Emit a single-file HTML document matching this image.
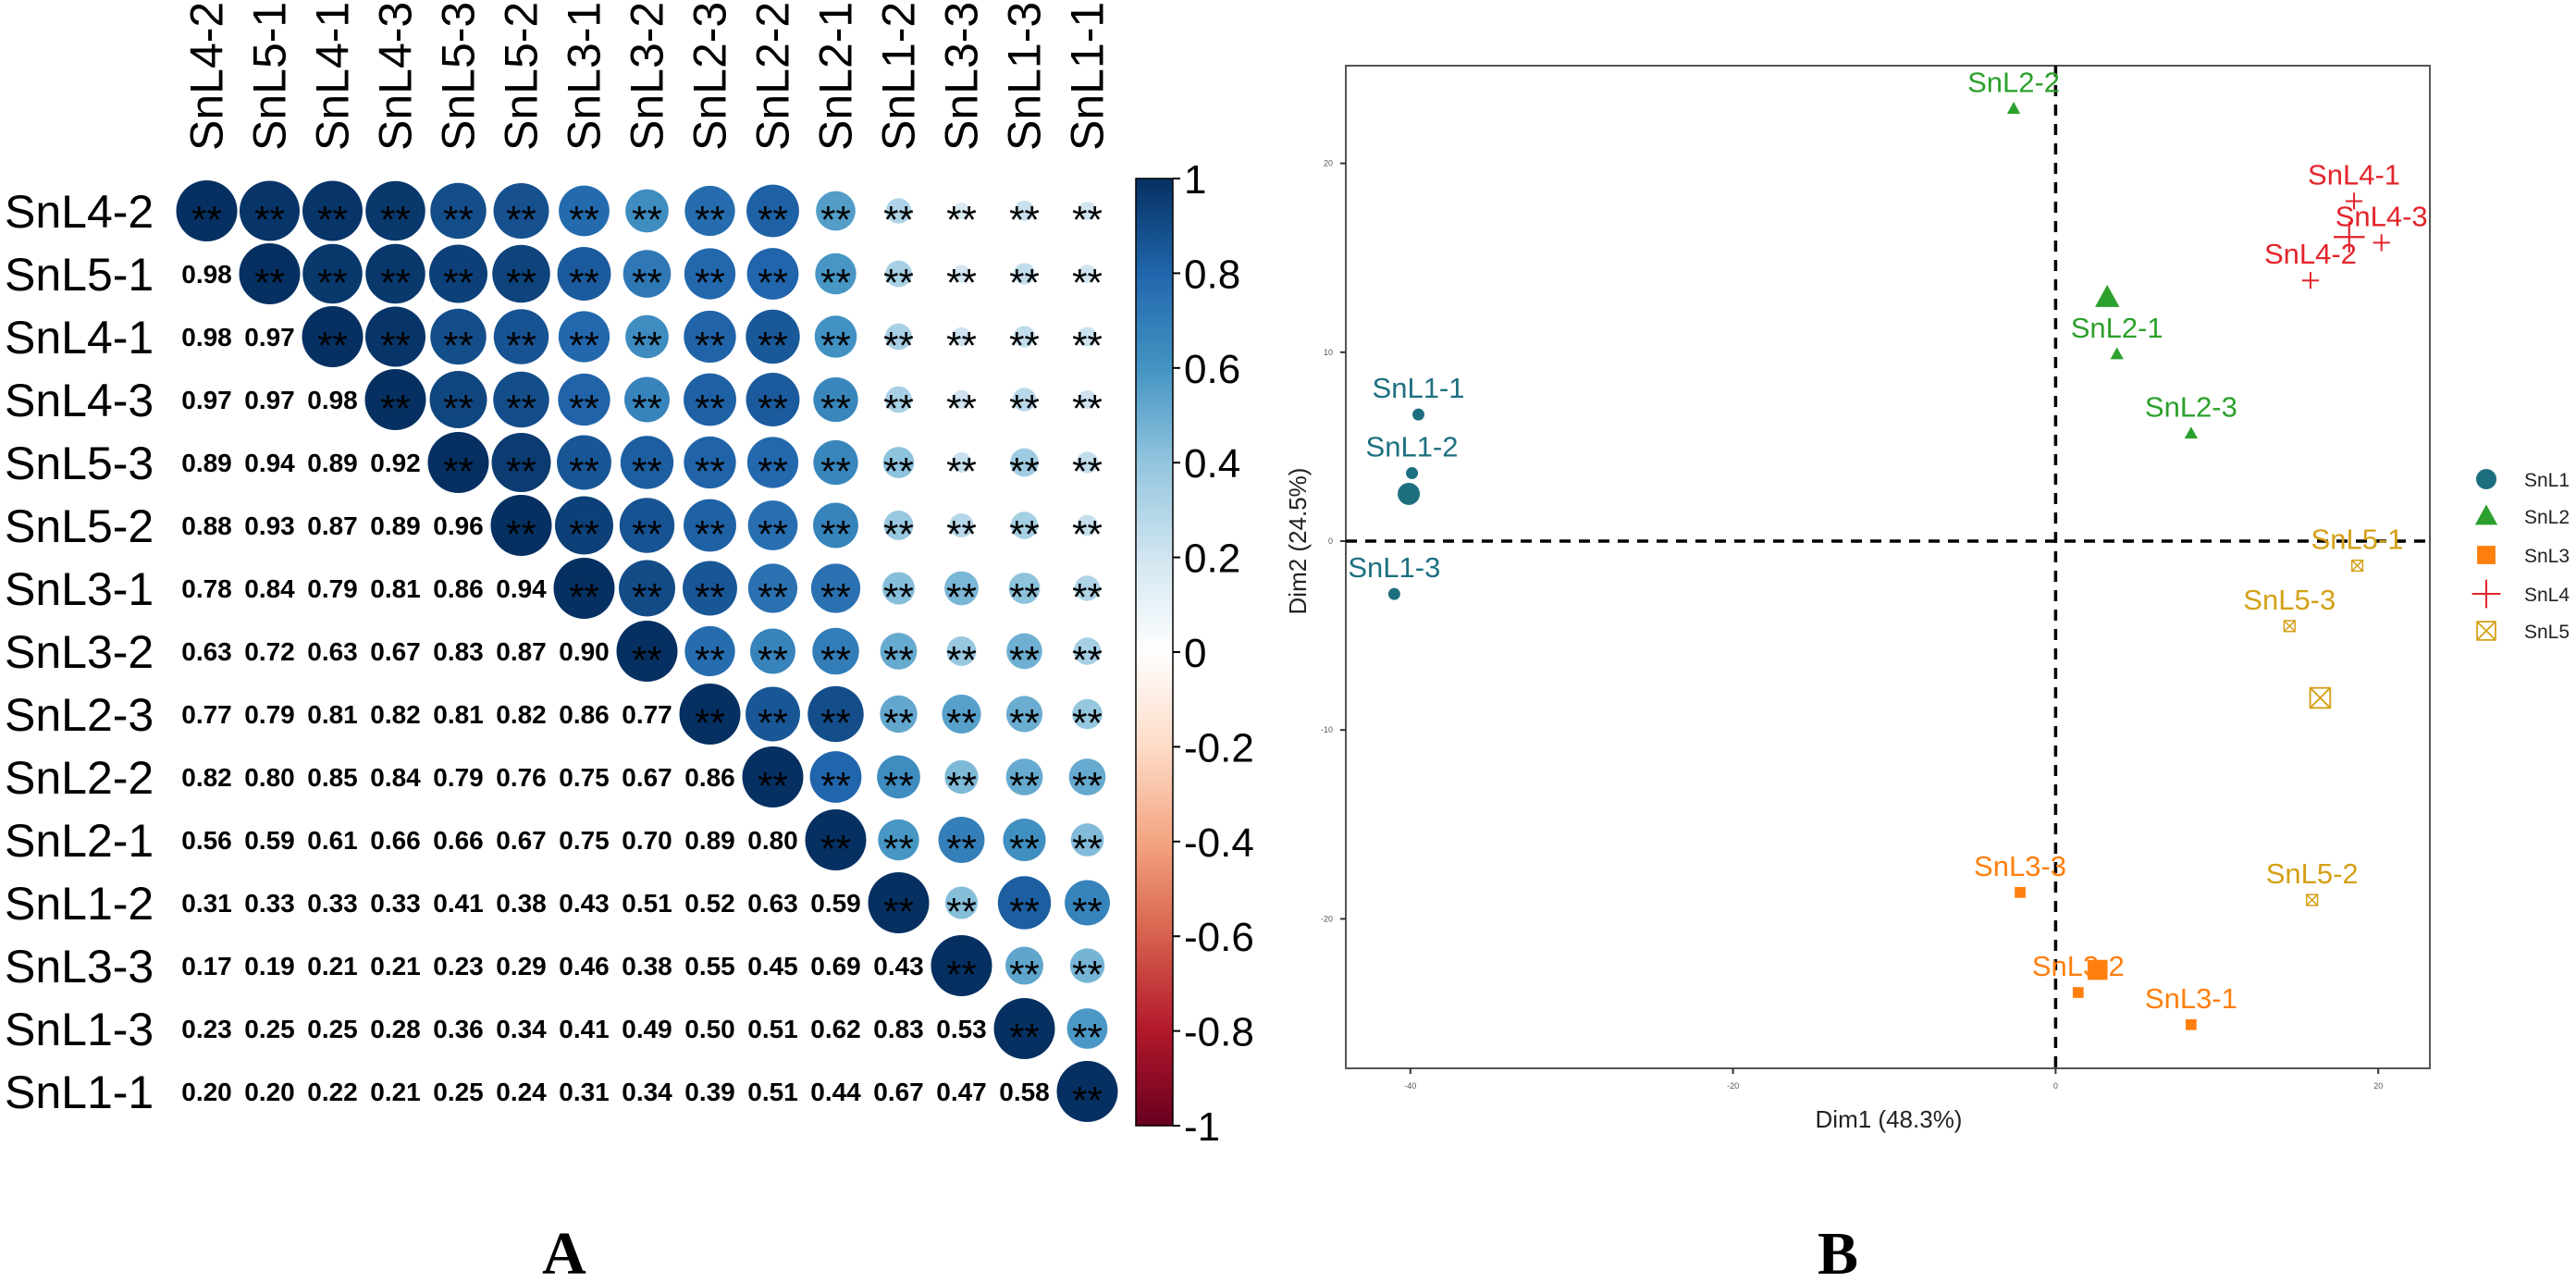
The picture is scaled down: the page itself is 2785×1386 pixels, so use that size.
<!DOCTYPE html>
<html><head><meta charset="utf-8"><style>
html,body{margin:0;padding:0;background:#fff;}
svg{display:block;}
text{font-family:"Liberation Sans",Arial,sans-serif;}
</style></head><body>
<svg id="fig" xmlns="http://www.w3.org/2000/svg" width="2785" height="1386" viewBox="0 0 2785 1386">
<rect x="0" y="0" width="2785" height="1386" fill="#fff"/>
<g id="panelA"></g>
<g id="panelB"></g>
<text x="610" y="1377" text-anchor="middle" font-weight="bold" font-size="66" style="font-family:'Liberation Serif',serif">A</text>
<text x="1987" y="1377" text-anchor="middle" font-weight="bold" font-size="66" style="font-family:'Liberation Serif',serif">B</text>
</svg>
<script>
// ---------- Panel A data ----------
const sampleNames = ["SnL4-2","SnL5-1","SnL4-1","SnL4-3","SnL5-3","SnL5-2","SnL3-1","SnL3-2","SnL2-3","SnL2-2","SnL2-1","SnL1-2","SnL3-3","SnL1-3","SnL1-1"];
const corrLower = [
  [],
  [0.98],
  [0.98,0.97],
  [0.97,0.97,0.98],
  [0.89,0.94,0.89,0.92],
  [0.88,0.93,0.87,0.89,0.96],
  [0.78,0.84,0.79,0.81,0.86,0.94],
  [0.63,0.72,0.63,0.67,0.83,0.87,0.90],
  [0.77,0.79,0.81,0.82,0.81,0.82,0.86,0.77],
  [0.82,0.80,0.85,0.84,0.79,0.76,0.75,0.67,0.86],
  [0.56,0.59,0.61,0.66,0.66,0.67,0.75,0.70,0.89,0.80],
  [0.31,0.33,0.33,0.33,0.41,0.38,0.43,0.51,0.52,0.63,0.59],
  [0.17,0.19,0.21,0.21,0.23,0.29,0.46,0.38,0.55,0.45,0.69,0.43],
  [0.23,0.25,0.25,0.28,0.36,0.34,0.41,0.49,0.50,0.51,0.62,0.83,0.53],
  [0.20,0.20,0.22,0.21,0.25,0.24,0.31,0.34,0.39,0.51,0.44,0.67,0.47,0.58]
];
const colorbarTicks = [1,0.8,0.6,0.4,0.2,0,-0.2,-0.4,-0.6,-0.8,-1];
const colorbarTickLabels = ["1","0.8","0.6","0.4","0.2","0","-0.2","-0.4","-0.6","-0.8","-1"];

// ---------- Panel B data ----------
const pointLabels = ["SnL1-1","SnL1-2","SnL1-3","SnL2-2","SnL2-1","SnL2-3","SnL4-1","SnL4-3","SnL4-2","SnL5-1","SnL5-3","SnL5-2","SnL3-3","SnL3-2","SnL3-1"];
const pointGroups = ["SnL1","SnL1","SnL1","SnL2","SnL2","SnL2","SnL4","SnL4","SnL4","SnL5","SnL5","SnL5","SnL3","SnL3","SnL3"];
const dim1Values = [-39.5,-39.9,-41.0,-2.6,3.8,8.4,18.5,20.2,15.8,18.7,14.5,15.9,-2.2,1.4,8.4];
const dim2Values = [6.7,3.6,-2.8,22.9,9.9,5.7,18.0,15.8,13.8,-1.3,-4.5,-19.0,-18.6,-23.9,-25.6];
const centroidGroups = ["SnL1","SnL2","SnL3","SnL4","SnL5"];
const centroidDim1 = [-40.1,3.2,2.6,18.2,16.4];
const centroidDim2 = [2.5,12.9,-22.7,16.1,-8.3];
const xTicks = [-40,-20,0,20];
const yTicks = [20,10,0,-10,-20];
const groupColors = {SnL1:"#1d6f80",SnL2:"#2ca02c",SnL3:"#ff7f0e",SnL4:"#e3242b",SnL5:"#d4a017"};

const NS = "http://www.w3.org/2000/svg";
function mk(tag, attrs, parent){
  const e = document.createElementNS(NS, tag);
  for (const k in attrs) e.setAttribute(k, attrs[k]);
  parent.appendChild(e);
  return e;
}

const rdbuStops = [[-1,"#67001f"],[-0.8,"#b2182b"],[-0.6,"#d6604d"],[-0.4,"#f4a582"],[-0.2,"#fddbc7"],[0,"#ffffff"],[0.2,"#d1e5f0"],[0.4,"#92c5de"],[0.6,"#4393c3"],[0.8,"#2166ac"],[1,"#053061"]];
function hex2rgb(h){return [parseInt(h.substr(1,2),16),parseInt(h.substr(3,2),16),parseInt(h.substr(5,2),16)];}
function rdbu(v){
  v=Math.max(-1,Math.min(1,v));
  for(let i=0;i<rdbuStops.length-1;i++){
    const a=rdbuStops[i],b=rdbuStops[i+1];
    if(v>=a[0]&&v<=b[0]){
      const t=(v-a[0])/(b[0]-a[0]);const ca=hex2rgb(a[1]),cb=hex2rgb(b[1]);
      return "rgb("+ca.map((c,j)=>Math.round(c+(cb[j]-c)*t)).join(",")+")";
    }
  }
  return "#053061";
}

// ---------- Draw panel A ----------
(function(){
  const g = document.getElementById("panelA");
  const n = sampleNames.length;
  const x0 = 223.5, y0 = 228, cell = 68, rmax = 33;
  const cx = i => x0 + i*cell;
  const cy = i => y0 + i*cell;
  function val(r,c){ if(r===c) return 1; return r>c ? corrLower[r][c] : corrLower[c][r]; }
  for(let i=0;i<n;i++){
    const t = mk("text",{x:5,y:cy(i)+18,"font-size":50,fill:"#000"},g);
    t.textContent = sampleNames[i];
    
    
    const c = mk("text",{x:0,y:0,"font-size":50,fill:"#000",transform:"translate("+(cx(i)+17)+",163) rotate(-90)"},g);
    c.textContent = sampleNames[i];
    
    
  }
  for(let r=0;r<n;r++){
    for(let c=0;c<n;c++){
      const v = val(r,c);
      if(c<r){
        const t = mk("text",{x:cx(c),y:cy(r)+10,"font-size":28,"font-weight":"bold","text-anchor":"middle",fill:"#000"},g);
        t.textContent = v.toFixed(2);
        
        
      } else {
        const circ = mk("circle",{cx:cx(c),cy:cy(r),r:rmax*Math.pow(Math.abs(v),0.75),fill:rdbu(v)},g);
        
        
        const s = mk("text",{x:cx(c),y:cy(r)+24,"font-size":42,"text-anchor":"middle",fill:"#000"},g);
        s.textContent = "**";
        
        
      }
    }
  }
  const bx=1228,bw=40,btop=193,bbot=1217;
  const defs = mk("defs",{},g);
  const lg = mk("linearGradient",{id:"cbgrad",x1:0,y1:0,x2:0,y2:1},defs);
  for(let k=0;k<=40;k++){
    const v = 1 - k/20;
    mk("stop",{offset:(k/40),"stop-color":rdbu(v)},lg);
  }
  const bar = mk("rect",{x:bx,y:btop,width:bw,height:bbot-btop,fill:"url(#cbgrad)",stroke:"#000","stroke-width":1.5},g);
  
  
  const ys = v => btop + (1-v)/2*(bbot-btop);
  colorbarTicks.forEach((v,i)=>{
    mk("line",{x1:bx+bw,x2:bx+bw+8,y1:ys(v),y2:ys(v),stroke:"#000","stroke-width":2},g);
    const t = mk("text",{x:bx+bw+12,y:ys(v)+16,"font-size":44,fill:"#000"},g);
    t.textContent = colorbarTickLabels[i];
    
    
  });
})();

// ---------- Draw panel B ----------
(function(){
  const g = document.getElementById("panelB");
  const L=1455,R=2627,T=71,B=1155;
  const xs = v => 2222.4 + v*17.44;
  const ys = v => 585 - v*20.42;
  const frame = mk("rect",{x:L,y:T,width:R-L,height:B-T,fill:"none",stroke:"#555","stroke-width":2},g);
  
  
  xTicks.forEach(v=>{
    mk("line",{x1:xs(v),x2:xs(v),y1:B,y2:B+6,stroke:"#333","stroke-width":2},g);
    const t = mk("text",{x:xs(v),y:B+22,"font-size":9,"text-anchor":"middle",fill:"#555"},g);
    t.textContent = String(v);
    
    
  });
  yTicks.forEach(v=>{
    mk("line",{x1:L-6,x2:L,y1:ys(v),y2:ys(v),stroke:"#333","stroke-width":2},g);
    const t = mk("text",{x:L-14,y:ys(v)+3,"font-size":9,"text-anchor":"end",fill:"#555"},g);
    t.textContent = String(v);
    
    
  });
  const vl = mk("line",{x1:xs(0),x2:xs(0),y1:T,y2:B,stroke:"#000","stroke-width":3.5,"stroke-dasharray":"12,9"},g);
  
  
  const hl = mk("line",{x1:L,x2:R,y1:ys(0),y2:ys(0),stroke:"#000","stroke-width":3.5,"stroke-dasharray":"12,9"},g);
  
  
  const xt = mk("text",{x:2042,y:1219,"font-size":26,"text-anchor":"middle",fill:"#222"},g);
  xt.textContent = "Dim1 (48.3%)";
  
  
  const yt = mk("text",{x:0,y:0,"font-size":26,"text-anchor":"middle",fill:"#222",transform:"translate(1412,585) rotate(-90)"},g);
  yt.textContent = "Dim2 (24.5%)";
  
  

  function marker(grp, x, y, s, parent){
    const col = groupColors[grp];
    let e;
    if(grp==="SnL1"){ e = mk("circle",{cx:x,cy:y,r:s*0.5,fill:col},parent); }
    else if(grp==="SnL2"){ const h=s*0.95; e = mk("polygon",{points:(x-s*0.55)+","+(y+h*0.45)+" "+(x+s*0.55)+","+(y+h*0.45)+" "+x+","+(y-h*0.6),fill:col},parent); }
    else if(grp==="SnL3"){ e = mk("rect",{x:x-s*0.45,y:y-s*0.45,width:s*0.9,height:s*0.9,fill:col},parent); }
    else if(grp==="SnL4"){ e = mk("path",{d:"M"+(x-s*0.7)+","+y+"H"+(x+s*0.7)+"M"+x+","+(y-s*0.7)+"V"+(y+s*0.7),stroke:col,"stroke-width":Math.max(2,s*0.09),fill:"none"},parent); }
    else { const h=s*0.45; e = mk("path",{d:"M"+(x-h)+","+(y-h)+"h"+(2*h)+"v"+(2*h)+"h"+(-2*h)+"zM"+(x-h)+","+(y-h)+"L"+(x+h)+","+(y+h)+"M"+(x+h)+","+(y-h)+"L"+(x-h)+","+(y+h),stroke:col,"stroke-width":Math.max(1.5,s*0.08),fill:"none"},parent); }
    return e;
  }
  pointLabels.forEach((lab,i)=>{
    const x = xs(dim1Values[i]), y = ys(dim2Values[i]);
    const m = marker(pointGroups[i], x, y, 13, g);
    
    
    const t = mk("text",{x:x,y:y-18,"font-size":31,"text-anchor":"middle",fill:groupColors[pointGroups[i]]},g);
    t.textContent = lab;
    
    
  });
  centroidGroups.forEach((grp,i)=>{
    const m = marker(grp, xs(centroidDim1[i]), ys(centroidDim2[i]), 24, g);
    
    
  });
  const legY = [518,558,600,642,682];
  centroidGroups.forEach((grp,i)=>{
    const m = marker(grp, 2688, legY[i], 22, g);
    
    
    const t = mk("text",{x:2729,y:legY[i]+8,"font-size":21,fill:"#222"},g);
    t.textContent = grp;
    
    
  });
})();
</script>
</body></html>
